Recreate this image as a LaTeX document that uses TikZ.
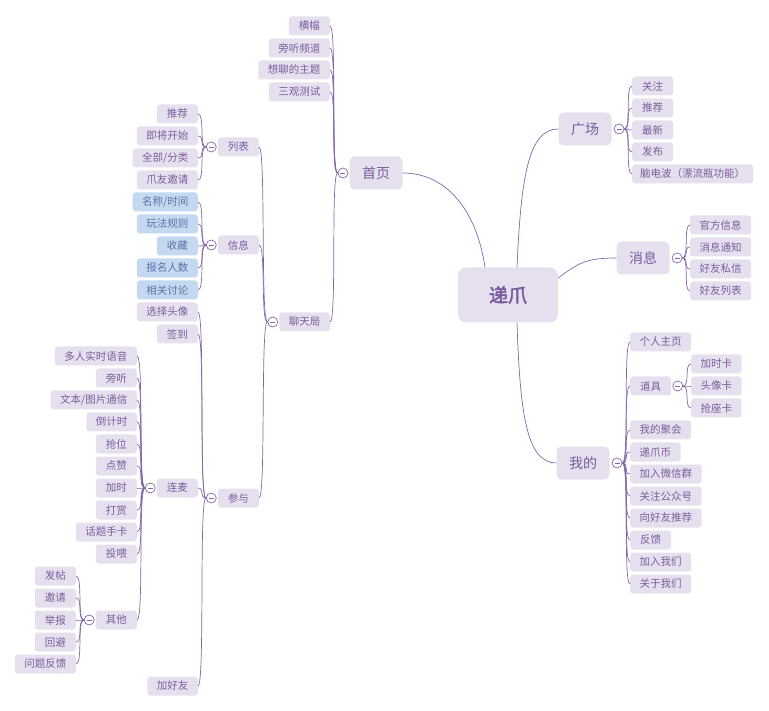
\documentclass[tikz,border=0pt]{standalone}
\usepackage{fontspec}
\setmainfont{Noto Sans CJK SC}[AutoFakeBold=2.5]
\usepackage{tikz}
\usetikzlibrary{positioning}
\definecolor{ink}{HTML}{7A5C9E}
\definecolor{wire}{HTML}{8467AA}
\definecolor{lilac}{HTML}{E6E0EE}
\definecolor{sky}{HTML}{C4D8F0}
\definecolor{skyink}{HTML}{5E71A8}

\begin{document}
\begin{tikzpicture}[x=1pt,y=-1pt,
  leaf/.style={fill=lilac,text=ink,rounded corners=3pt,inner xsep=9.5pt,inner ysep=2pt,minimum width=41pt,minimum height=19pt,font=\fontsize{10.5}{12}\selectfont},
  blueleaf/.style={leaf,fill=sky,text=skyink},
  topic/.style={fill=lilac,text=ink,rounded corners=5pt,inner xsep=12.5pt,minimum width=53pt,minimum height=33pt,font=\fontsize{14}{16}\selectfont},
  central/.style={fill=lilac,text=ink,rounded corners=8pt,minimum width=100pt,minimum height=55pt,font=\fontsize{19}{22}\selectfont\bfseries},
  fold/.style={circle,draw=wire,fill=white,line width=0.7pt,minimum size=10pt,inner sep=0pt,
    path picture={\draw[wire,line width=0.7pt] ([xshift=2.5pt]path picture bounding box.west)--([xshift=-2.5pt]path picture bounding box.east);}},
  branch/.style={draw=wire,line width=0.7pt},
  lto/.style={to path={.. controls +(-7,0) and +(7,0) .. (\tikztotarget)}},
  rto/.style={to path={.. controls +(7,0) and +(-7,0) .. (\tikztotarget)}}]
  \useasboundingbox (0,0) rectangle (769,711);
  % centre and main topics
  \node[central] (dizhua) at (508,295) {递爪};
  \node[topic] (home) at (376,173) {首页};
  \node[topic] (plaza) at (585,129) {广场};
  \node[topic] (news) at (643,258) {消息};
  \node[topic] (mine) at (583,463) {我的};
  \node[fold,left=1pt of home] (homef) {};
  \node[fold,right=2pt of plaza] (plazaf) {};
  \node[fold,right=2pt of news] (newsf) {};
  \node[fold,right=2pt of mine] (minef) {};
  \draw[branch] ([xshift=-23pt]dizhua.north) .. controls +(-8,-55) and +(45,0) .. (home.east);
  \draw[branch] ([xshift=9pt]dizhua.north) .. controls +(4,-90) and +(-30,0) .. (plaza.west);
  \draw[branch] ([yshift=17pt]dizhua.east) .. controls +(20,-15) and +(-30,0) .. (news.west);
  \draw[branch] ([xshift=9pt]dizhua.south) .. controls +(3,90) and +(-30,0) .. (mine.west);
  % home
  \node[leaf,anchor=east] (banner) at (330,26) {横幅};
  \node[leaf,anchor=east] (audit) at (330,48) {旁听频道};
  \node[leaf,anchor=east] (themes) at (330,70) {想聊的主题};
  \node[leaf,anchor=east] (values) at (330,92) {三观测试};
  \node[leaf,anchor=east] (chat) at (330,322) {聊天局};
  \node[fold,left=1pt of chat] (chatf) {};
  \draw[branch] (homef.west) to[lto] (banner.east);
  \draw[branch] (homef.west) to[lto] (audit.east);
  \draw[branch] (homef.west) to[lto] (themes.east);
  \draw[branch] (homef.west) to[lto] (values.east);
  \draw[branch] (homef.west) to[lto] (chat.east);
  % chat room
  \node[leaf,anchor=east] (list) at (259,147) {列表};
  \node[leaf,anchor=east] (info) at (259,245) {信息};
  \node[leaf,anchor=east] (join) at (259,498) {参与};
  \node[fold,left=1pt of list] (listf) {};
  \node[fold,left=1pt of info] (infof) {};
  \node[fold,left=1pt of join] (joinf) {};
  \draw[branch] (chatf.west) to[lto] (list.east);
  \draw[branch] (chatf.west) to[lto] (info.east);
  \draw[branch] (chatf.west) to[lto] (join.east);
  % list
  \node[leaf,anchor=east] (pick) at (198,114) {推荐};
  \node[leaf,anchor=east] (soon) at (198,136) {即将开始};
  \node[leaf,anchor=east] (all) at (198,158) {全部/分类};
  \node[leaf,anchor=east] (invite) at (198,180) {爪友邀请};
  \draw[branch] (listf.west) to[lto] (pick.east);
  \draw[branch] (listf.west) to[lto] (soon.east);
  \draw[branch] (listf.west) to[lto] (all.east);
  \draw[branch] (listf.west) to[lto] (invite.east);
  % info
  \node[blueleaf,anchor=east] (title) at (198,202) {名称/时间};
  \node[blueleaf,anchor=east] (rules) at (198,224) {玩法规则};
  \node[blueleaf,anchor=east] (fav) at (198,246) {收藏};
  \node[blueleaf,anchor=east] (count) at (198,268) {报名人数};
  \node[blueleaf,anchor=east] (talk) at (198,290) {相关讨论};
  \draw[branch] (infof.west) to[lto] (title.east);
  \draw[branch] (infof.west) to[lto] (rules.east);
  \draw[branch] (infof.west) to[lto] (fav.east);
  \draw[branch] (infof.west) to[lto] (count.east);
  \draw[branch] (infof.west) to[lto] (talk.east);
  % join
  \node[leaf,anchor=east] (avatar) at (198,312) {选择头像};
  \node[leaf,anchor=east] (signin) at (198,334) {签到};
  \node[leaf,anchor=east] (mic) at (198,488) {连麦};
  \node[leaf,anchor=east] (friend) at (198,686) {加好友};
  \node[fold,left=1pt of mic] (micf) {};
  \draw[branch] (joinf.west) to[lto] (avatar.east);
  \draw[branch] (joinf.west) to[lto] (signin.east);
  \draw[branch] (joinf.west) to[lto] (mic.east);
  \draw[branch] (joinf.west) to[lto] (friend.east);
  % mic
  \node[leaf,anchor=east] (voice) at (137,356) {多人实时语音};
  \node[leaf,anchor=east] (listen) at (137,378) {旁听};
  \node[leaf,anchor=east] (text) at (137,400) {文本/图片通信};
  \node[leaf,anchor=east] (timer) at (137,422) {倒计时};
  \node[leaf,anchor=east] (grab) at (137,444) {抢位};
  \node[leaf,anchor=east] (like) at (137,466) {点赞};
  \node[leaf,anchor=east] (extend) at (137,488) {加时};
  \node[leaf,anchor=east] (tip) at (137,510) {打赏};
  \node[leaf,anchor=east] (card) at (137,532) {话题手卡};
  \node[leaf,anchor=east] (feed) at (137,554) {投喂};
  \node[leaf,anchor=east] (other) at (137,620) {其他};
  \node[fold,left=1pt of other] (otherf) {};
  \draw[branch] (micf.west) to[lto] (voice.east);
  \draw[branch] (micf.west) to[lto] (listen.east);
  \draw[branch] (micf.west) to[lto] (text.east);
  \draw[branch] (micf.west) to[lto] (timer.east);
  \draw[branch] (micf.west) to[lto] (grab.east);
  \draw[branch] (micf.west) to[lto] (like.east);
  \draw[branch] (micf.west) to[lto] (extend.east);
  \draw[branch] (micf.west) to[lto] (tip.east);
  \draw[branch] (micf.west) to[lto] (card.east);
  \draw[branch] (micf.west) to[lto] (feed.east);
  \draw[branch] (micf.west) to[lto] (other.east);
  % other
  \node[leaf,anchor=east] (post) at (76,576) {发帖};
  \node[leaf,anchor=east] (ask) at (76,598) {邀请};
  \node[leaf,anchor=east] (report) at (76,620) {举报};
  \node[leaf,anchor=east] (avoid) at (76,642) {回避};
  \node[leaf,anchor=east] (issue) at (76,664) {问题反馈};
  \draw[branch] (otherf.west) to[lto] (post.east);
  \draw[branch] (otherf.west) to[lto] (ask.east);
  \draw[branch] (otherf.west) to[lto] (report.east);
  \draw[branch] (otherf.west) to[lto] (avoid.east);
  \draw[branch] (otherf.west) to[lto] (issue.east);
  % plaza
  \node[leaf,anchor=west] (follow) at (632,86) {关注};
  \node[leaf,anchor=west] (recom) at (632,108) {推荐};
  \node[leaf,anchor=west] (latest) at (632,130) {最新};
  \node[leaf,anchor=west] (publish) at (632,152) {发布};
  \node[leaf,anchor=west,inner xsep=8pt] (bottle) at (632,174) {脑电波（漂流瓶功能）};
  \draw[branch] (plazaf.east) to[rto] (follow.west);
  \draw[branch] (plazaf.east) to[rto] (recom.west);
  \draw[branch] (plazaf.east) to[rto] (latest.west);
  \draw[branch] (plazaf.east) to[rto] (publish.west);
  \draw[branch] (plazaf.east) to[rto] (bottle.west);
  % news
  \node[leaf,anchor=west] (official) at (690,225) {官方信息};
  \node[leaf,anchor=west] (notice) at (690,247) {消息通知};
  \node[leaf,anchor=west] (dm) at (690,269) {好友私信};
  \node[leaf,anchor=west] (friends) at (690,291) {好友列表};
  \draw[branch] (newsf.east) to[rto] (official.west);
  \draw[branch] (newsf.east) to[rto] (notice.west);
  \draw[branch] (newsf.east) to[rto] (dm.west);
  \draw[branch] (newsf.east) to[rto] (friends.west);
  % mine
  \node[leaf,anchor=west] (profile) at (630,342) {个人主页};
  \node[leaf,anchor=west] (props) at (630,386) {道具};
  \node[leaf,anchor=west] (parties) at (630,430) {我的聚会};
  \node[leaf,anchor=west] (coins) at (630,452) {递爪币};
  \node[leaf,anchor=west] (wechat) at (630,474) {加入微信群};
  \node[leaf,anchor=west] (account) at (630,496) {关注公众号};
  \node[leaf,anchor=west] (share) at (630,518) {向好友推荐};
  \node[leaf,anchor=west] (feedback) at (630,540) {反馈};
  \node[leaf,anchor=west] (joinus) at (630,562) {加入我们};
  \node[leaf,anchor=west] (about) at (630,584) {关于我们};
  \node[fold,right=1pt of props] (propsf) {};
  \draw[branch] (minef.east) to[rto] (profile.west);
  \draw[branch] (minef.east) to[rto] (props.west);
  \draw[branch] (minef.east) to[rto] (parties.west);
  \draw[branch] (minef.east) to[rto] (coins.west);
  \draw[branch] (minef.east) to[rto] (wechat.west);
  \draw[branch] (minef.east) to[rto] (account.west);
  \draw[branch] (minef.east) to[rto] (share.west);
  \draw[branch] (minef.east) to[rto] (feedback.west);
  \draw[branch] (minef.east) to[rto] (joinus.west);
  \draw[branch] (minef.east) to[rto] (about.west);
  % props
  \node[leaf,anchor=west] (timecard) at (691,364) {加时卡};
  \node[leaf,anchor=west] (avacard) at (691,386) {头像卡};
  \node[leaf,anchor=west] (seatcard) at (691,408) {抢座卡};
  \draw[branch] (propsf.east) to[rto] (timecard.west);
  \draw[branch] (propsf.east) to[rto] (avacard.west);
  \draw[branch] (propsf.east) to[rto] (seatcard.west);
\end{tikzpicture}
\end{document}
